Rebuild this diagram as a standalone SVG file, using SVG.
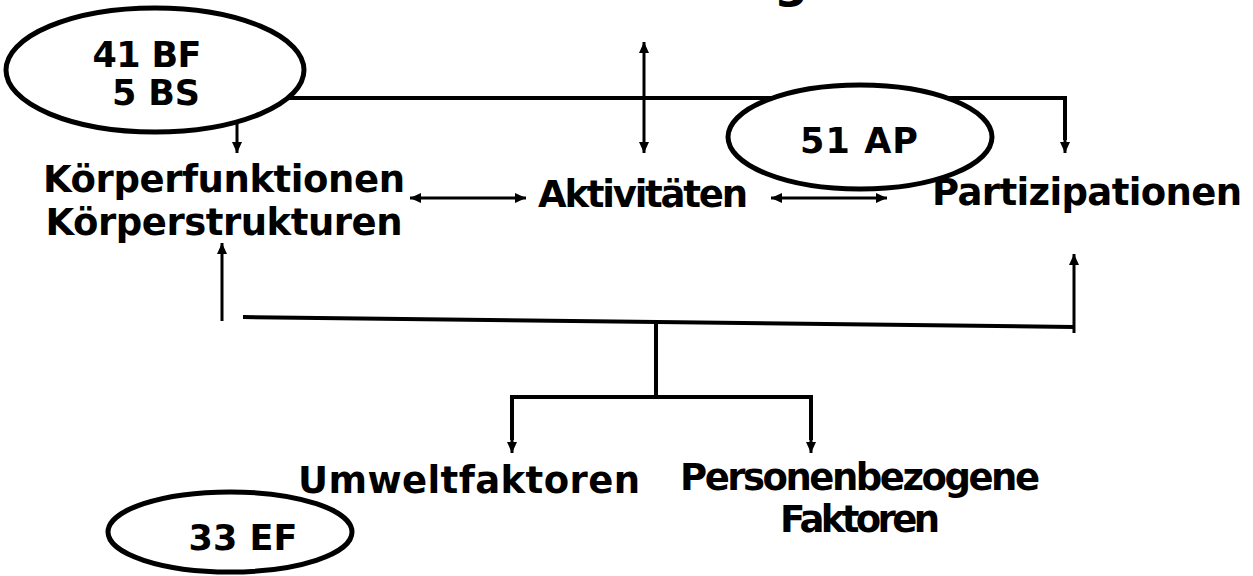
<svg xmlns="http://www.w3.org/2000/svg" width="1253" height="576" viewBox="0 0 1253 576">
<style>
text{font-family:"DejaVu Sans","Verdana",sans-serif;font-weight:bold;fill:#000;text-anchor:middle}
.lbl{font-size:37px}
.el{font-size:35px}
.oval{fill:#fff;stroke:#000;stroke-width:5}
.thick{stroke:#000;stroke-width:4;fill:none}
.thin{stroke:#000;stroke-width:3;fill:none}
.arr{marker-end:url(#ah)}
.darr{marker-start:url(#ah);marker-end:url(#ah)}
</style>
<defs>
<marker id="ah" markerUnits="userSpaceOnUse" markerWidth="12" markerHeight="11" refX="11" refY="5" orient="auto-start-reverse" viewBox="0 0 12 11">
<path d="M0,0 L11,5 L0,10 z" fill="#000"/>
</marker>
</defs>
<rect width="1253" height="576" fill="#fff"/>
<text x="791" y="-3" style="font-size:48px">g</text>
<g id="connectors">
<polyline class="thick" points="286,98 1065,98 1065,140"/>
<line class="thin arr" x1="1065" y1="136" x2="1065" y2="153"/>
<line class="thin arr" x1="237" y1="122" x2="237" y2="153"/>
<line class="thin darr" x1="644" y1="42" x2="644" y2="153"/>
<line class="thin darr" x1="410" y1="198" x2="526" y2="198"/>
<line class="thin darr" x1="771" y1="198" x2="887" y2="198"/>
<line class="thin arr" x1="222" y1="321" x2="222" y2="243"/>
<line class="thin arr" x1="1074" y1="333" x2="1074" y2="254"/>
<line class="thick" x1="243" y1="317" x2="1074" y2="327"/>
<polyline class="thick" points="656,321 656,397 512,397 512,440"/>
<polyline class="thick" points="656,397 811,397 811,440"/>
<line class="thin arr" x1="512" y1="436" x2="512" y2="453"/>
<line class="thin arr" x1="811" y1="436" x2="811" y2="453"/>
</g>
<g id="n-bfbs">
<ellipse class="oval" cx="155" cy="70" rx="149" ry="62"/>
<text class="el" x="147" y="67" textLength="109">41 BF</text>
<text class="el" x="156" y="105" textLength="88">5 BS</text>
</g>
<g id="n-ap">
<ellipse class="oval" cx="860" cy="137" rx="132" ry="52"/>
<text class="el" x="859" y="153" textLength="118">51 AP</text>
</g>
<g id="n-ef">
<ellipse class="oval" cx="230" cy="532" rx="122" ry="40"/>
<text class="el" x="243" y="550" textLength="109">33 EF</text>
</g>
<g id="n-koerper">
<text class="lbl" x="224" y="192" textLength="362">Körperfunktionen</text>
<text class="lbl" x="224" y="235" textLength="357">Körperstrukturen</text>
</g>
<g id="n-akt">
<text class="lbl" x="643" y="207" textLength="210">Aktivitäten</text>
</g>
<g id="n-part">
<text class="lbl" x="1087" y="205" textLength="310">Partizipationen</text>
</g>
<g id="n-umwelt">
<text class="lbl" x="469" y="493" textLength="342">Umweltfaktoren</text>
</g>
<g id="n-person">
<text class="lbl" x="860" y="490" textLength="360">Personenbezogene</text>
<text class="lbl" x="860" y="532" textLength="160">Faktoren</text>
</g>
</svg>
